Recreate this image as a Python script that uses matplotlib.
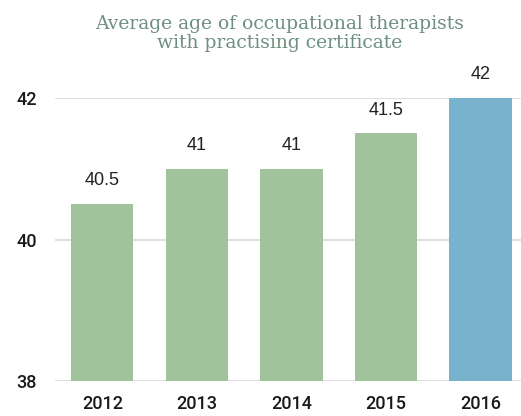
import matplotlib.pyplot as plt

# data
years = ['2012', '2013', '2014', '2015', '2016']
avg_age = [40.5, 41, 41, 41.5, 42]
labels = ['40.5', '41', '41', '41.5', '42']
colors = ['#a0c39b', '#a0c39b', '#a0c39b', '#a0c39b', '#78b2cc']

plt.rcParams['font.family'] = ['Roboto', 'DejaVu Sans']

fig = plt.figure(figsize=(5.21, 4.16), dpi=100)
ax = fig.add_axes([0.1056, 0.0841, 0.8944, 0.6803])

x = range(len(years))
ax.bar(x, avg_age, width=0.66, color=colors, bottom=0, zorder=2)
ax.set_ylim(38, 42)
ax.set_xlim(-0.5, 4.43)

for i, v in enumerate(avg_age):
    ax.annotate(labels[i], (i, v), xytext=(0, 13.5), textcoords='offset points',
                ha='center', va='baseline', fontsize=13, color='#222222',
                family='Liberation Sans', annotation_clip=False)

ax.set_yticks([38, 40, 42])
ax.set_xticks(list(x))
ax.set_xticklabels(years)
ax.tick_params(axis='both', length=0, labelsize=13, colors='#1a1a1a')
for t in ax.get_xticklabels() + ax.get_yticklabels():
    t.set_fontweight('medium')
ax.tick_params(axis='y', pad=13)
ax.tick_params(axis='x', pad=10)
ax.grid(axis='y', color='#e0e0e0', linewidth=1.5, zorder=0)
for s in ax.spines.values():
    s.set_visible(False)

fig.text(0.537, 0.965, 'Average age of occupational therapists\nwith practising certificate',
         ha='center', va='top', fontsize=13.5, color='#6d8f7f',
         family='DejaVu Serif', linespacing=1.1)

fig.savefig('out.png', dpi=100)
